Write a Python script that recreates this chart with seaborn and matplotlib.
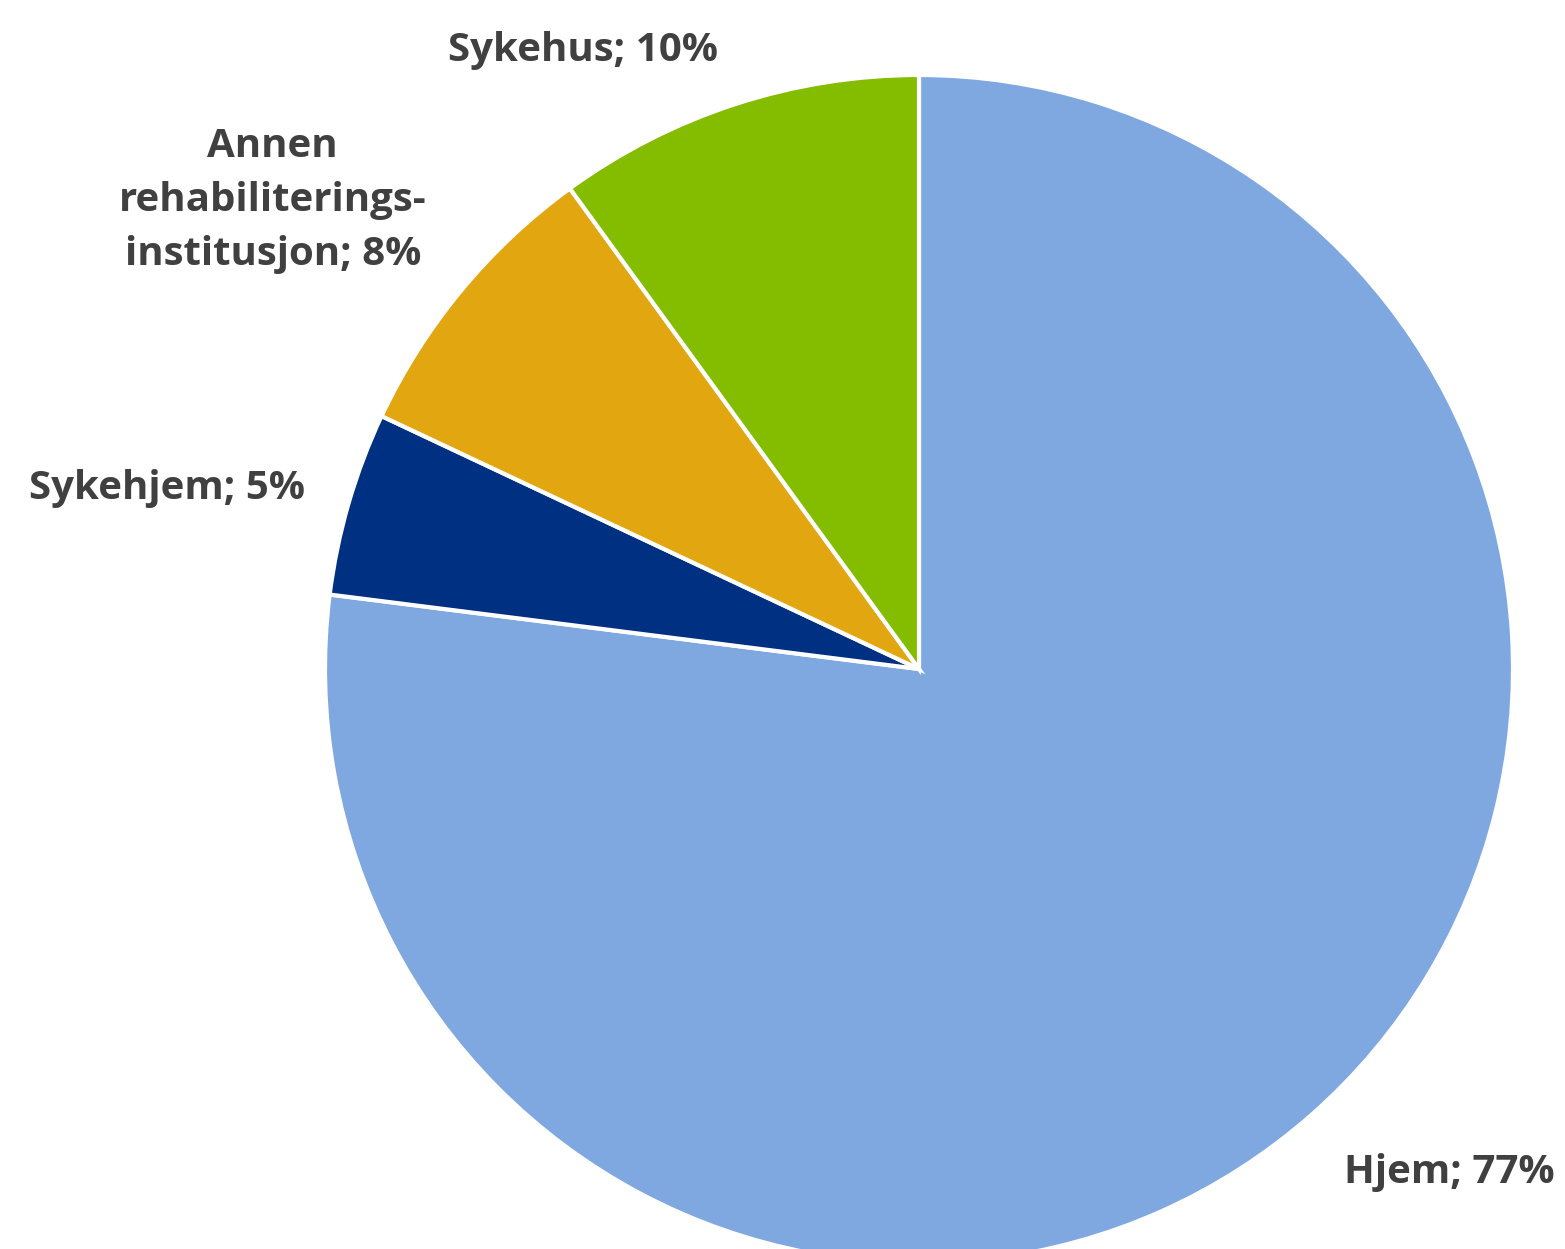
import matplotlib
matplotlib.use("Agg")
import matplotlib.pyplot as plt
import seaborn as sns

# Data
categories = ["Hjem", "Sykehjem", "Annen\nrehabiliterings-\ninstitusjon", "Sykehus"]
shares = [77, 5, 8, 10]
colors = ["#7FA8E0", "#003082", "#E2A611", "#84BC00"]

sns.set_style("white")
plt.rcParams['font.family'] = ['Liberation Sans Narrow', 'Open Sans', 'DejaVu Sans']

fig = plt.figure(figsize=(15.65, 12.49), dpi=100)
ax = fig.add_axes([0, 0, 1, 1])

wedges, _ = ax.pie(shares, colors=sns.color_palette(colors), startangle=90,
                   counterclock=False,
                   wedgeprops=dict(edgecolor="white", linewidth=3))

# keep the pie where it sits in the original (cut off at the bottom)
r = 594
cx, cy = 919, 669
ax.set_xlim(-cx / r, (1565 - cx) / r)
ax.set_ylim(-(1249 - cy) / r, cy / r)
ax.set_aspect("auto")
ax.axis("off")

txt = dict(fontsize=29, fontweight="bold", color="#404040", va="center")
lbl = [f"{c}; {v}%" for c, v in zip(categories, shares)]
ax.text(0.892, -0.847, lbl[0], ha="center", **txt)
ax.text(-1.034, 0.304, lbl[1], ha="right", **txt)
ax.text(-1.088, 0.788, lbl[2], ha="center", multialignment="center", linespacing=1.5, **txt)
ax.text(-0.565, 1.042, lbl[3], ha="center", **txt)

plt.savefig("out.png", dpi=100)
